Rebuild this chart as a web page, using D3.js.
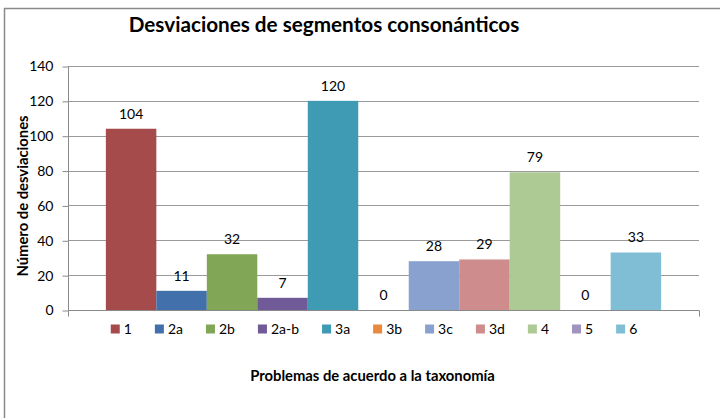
<!DOCTYPE html>
<html>
<head>
<meta charset="utf-8">
<script src="https://cdn.jsdelivr.net/npm/d3@7"></script>
<style>
  html, body { margin: 0; padding: 0; background: #fff; }
  svg { display: block; font-family: Lato, "Open Sans", sans-serif; }
</style>
</head>
<body>
<svg width="720" height="418"></svg>
<script>
const series = ["1", "2a", "2b", "2a-b", "3a", "3b", "3c", "3d", "4", "5", "6"];
const values = [104, 11, 32, 7, 120, 0, 28, 29, 79, 0, 33];
const colors = ["#A64B4B", "#4170AA", "#81A656", "#705A97", "#3F9BB3", "#E9893E",
                "#88A1CF", "#CE8C8D", "#ADC994", "#A093BF", "#7FBED4"];
const yTicks = [0, 20, 40, 60, 80, 100, 120, 140];

const title  = "Desviaciones de segmentos consonánticos";
const yTitle = "Número de desviaciones";
const xTitle = "Problemas de acuerdo a la taxonomía";

const main = function() {
  const svg = d3.select("svg");
  const plot = {left: 68, right: 699, top: 66, bottom: 310};

  // chart area border (runs off the right and bottom edge)
  svg.append("rect")
    .attr("x", 4.5).attr("y", 8.5)
    .attr("width", 760).attr("height", 460)
    .attr("fill", "none")
    .attr("stroke", "#8a8a8a")
    .attr("stroke-width", 1.5);

  const y = d3.scaleLinear().domain([0, 140]).range([plot.bottom, plot.top]);
  const x = d3.scaleBand()
    .domain(series)
    .range([plot.left, plot.right])
    .paddingInner(0)
    .paddingOuter(0.75);

  //gridlines
  svg.append("g")
    .selectAll("line")
    .data(yTicks.filter(t => t > 0))
    .join("line")
      .attr("x1", plot.left).attr("x2", plot.right)
      .attr("y1", d => Math.round(y(d)) + 0.5)
      .attr("y2", d => Math.round(y(d)) + 0.5)
      .attr("stroke", "#9a9a9a");

  //y axis
  const yAxis = svg.append("g")
    .attr("transform", `translate(${plot.left + 0.5},0.5)`)
    .call(d3.axisLeft(y).tickValues(yTicks).tickSize(6).tickPadding(9))
    .call(g => g.select(".domain").attr("stroke", "#8a8a8a")
                .attr("d", `M0,${plot.top}V${plot.bottom}`));
  yAxis.selectAll(".tick line").attr("stroke", "#8a8a8a");
  yAxis.selectAll(".tick text")
    .attr("font-size", 14)
    .attr("font-family", "Lato")
    .attr("fill", "#000");

  //bars
  svg.append("g")
    .selectAll("rect")
    .data(series)
    .join("rect")
      .attr("x", d => x(d))
      .attr("y", (d, i) => y(values[i]))
      .attr("width", x.bandwidth())
      .attr("height", (d, i) => y(0) - y(values[i]))
      .attr("fill", (d, i) => colors[i]);

  //data labels
  svg.append("g")
    .selectAll("text")
    .data(series)
    .join("text")
      .attr("x", d => x(d) + x.bandwidth() / 2)
      .attr("y", (d, i) => y(values[i]) - 10)
      .attr("text-anchor", "middle")
      .attr("font-size", 14)
      .attr("fill", "#000")
      .text((d, i) => values[i]);

  //x axis line, ticks only at the ends
  const base = Math.round(y(0)) + 0.5;
  svg.append("path")
    .attr("d", `M${plot.left + 0.5},${base}H${plot.right + 0.5}` +
               `M${plot.left + 0.5},${base}v6M${plot.right + 0.5},${base}v6`)
    .attr("fill", "none")
    .attr("stroke", "#8a8a8a");

  //title + axis titles
  svg.append("text")
    .attr("x", 324).attr("y", 32)
    .attr("text-anchor", "middle")
    .attr("font-size", 20.7)
    .attr("font-weight", "bold")
    .text(title);

  svg.append("text")
    .attr("transform", "translate(28,196) rotate(-90)")
    .attr("text-anchor", "middle")
    .attr("font-size", 14.8)
    .attr("font-weight", "bold")
    .text(yTitle);

  svg.append("text")
    .attr("x", 372.5).attr("y", 381)
    .attr("text-anchor", "middle")
    .attr("font-size", 14.8)
    .attr("font-weight", "bold")
    .text(xTitle);

  drawLegend(svg, 374, 329);
}();

function drawLegend(svg, cx, cy) {
  const SW = 9, GAP = 4, SPACE = 23;
  const legend = svg.append("g");
  const items = legend.selectAll("g")
    .data(series)
    .join("g");
  items.append("text")
    .attr("font-size", 14)
    .attr("dy", "0.35em")
    .text(d => d);

  // measure text to place items side by side
  let pos = 0;
  const offsets = [];
  items.each(function() {
    offsets.push(pos);
    const w = d3.select(this).select("text").node().getComputedTextLength();
    pos += SW + GAP + w + SPACE;
  });
  const total = pos - SPACE;
  const x0 = cx - total / 2;

  items.attr("transform", (d, i) => `translate(${x0 + offsets[i]},${cy})`);
  items.select("text").attr("x", SW + GAP);
  items.insert("rect", "text")
    .attr("x", 0).attr("y", -SW / 2)
    .attr("width", SW).attr("height", SW)
    .attr("fill", (d, i) => colors[i]);
}
</script>
</body>
</html>
